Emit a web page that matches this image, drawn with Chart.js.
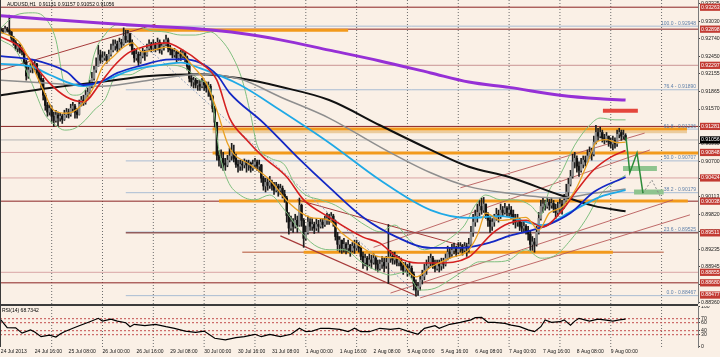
<!DOCTYPE html>
<html>
<head>
<meta charset="utf-8">
<script src="https://cdn.jsdelivr.net/npm/chart.js@4.4.1/dist/chart.umd.min.js"></script>
<style>
  html, body { margin:0; padding:0; background:#FAF0E6; }
  #wrap { position:relative; width:720px; height:357px; overflow:hidden; background:#FAF0E6; }
  canvas { display:block; }
  #cMain { position:absolute; left:0; top:0; }
  #sep { position:absolute; left:0; top:304px; width:698px; height:2px; background:#3c3c3c; }
  #cRsi { position:absolute; left:0; top:306px; }
</style>
</head>
<body>
<div id="wrap">
  <canvas id="cMain" width="720" height="304"></canvas>
  <div id="sep"></div>
  <canvas id="cRsi" width="720" height="51"></canvas>
</div>
<script>
// ===================== DATA =====================
const symbolTitle = 'AUDUSD,H1  0.91131 0.91157 0.91052 0.91056';
const rsiTitle = 'RSI(14) 68.7342';

const xLabels = ['24 Jul 2013','24 Jul 16:00','25 Jul 08:00','26 Jul 00:00','26 Jul 16:00','29 Jul 08:00','30 Jul 00:00','30 Jul 16:00','31 Jul 08:00','1 Aug 00:00','1 Aug 16:00','2 Aug 08:00','5 Aug 00:00','5 Aug 16:00','6 Aug 08:00','7 Aug 00:00','7 Aug 16:00','8 Aug 08:00','9 Aug 00:00'];
const xLabelBars = [0,16,32,48,64,80,96,112,128,144,160,176,192,208,224,240,256,272,288];
const dayStartBars = [24,48,72,96,120,144,168,192,216,240,264,288,312];

const priceTicks = [0.93325,0.93030,0.92740,0.92450,0.92155,0.91865,0.91570,0.91280,0.90990,0.90700,0.90410,0.90113,0.89820,0.89530,0.89235,0.88945,0.88650,0.88360];
const levelPrices = [0.93263,0.92898,0.92297,0.91281,0.90848,0.90424,0.90038,0.89511,0.88855,0.88680,0.88477];
const levelFromBar = [-1,-1,-1,-1,-1,-1,-1,59,-1,-1,59];
const bidPrice = 0.91056;

const fibLevels = [0,23.6,38.2,50,61.8,76.4,100];
const fibLow = 0.88467, fibHigh = 0.92948, fibFromBar = 59;

const bandPrices = [0.9288,0.9124,0.9084,0.9004,0.8919];
const bandFrom   = [-1,100,100,103,143];
const bandTo     = [164,324,330,324.4,289];
const tanBand = [[100,0.9119],[324,0.9119]];
const salmonLine = [[114,0.8919],[313,0.8919]];

const firstOpen = 0.9290;
const closes = [
0.9288,0.9286,0.9290,0.9288,0.9285,0.9275,0.9268,0.9258,0.9263,0.9255,
0.9252,0.9235,0.9212,0.9222,0.9228,0.9225,0.9232,0.9218,0.9208,0.9205,
0.9180,0.9163,0.9152,0.9158,0.9145,0.9138,0.9147,0.9142,0.9145,0.9140,
0.9147,0.9152,0.9148,0.9158,0.9162,0.9152,0.9148,0.9165,0.9172,0.9168,
0.9180,0.9185,0.9197,0.9208,0.9222,0.9228,0.9247,0.9238,0.9242,0.9245,
0.9238,0.9248,0.9255,0.9262,0.9265,0.9258,0.9268,0.9265,0.9278,0.9272,
0.9282,0.9268,0.9255,0.9242,0.9248,0.9235,0.9245,0.9252,0.9247,0.9258,
0.9265,0.9258,0.9263,0.9258,0.9268,0.9255,0.9262,0.9265,0.9272,0.9258,
0.9255,0.9247,0.9252,0.9242,0.9248,0.9245,0.9250,0.9242,0.9228,0.9208,
0.9202,0.9205,0.9197,0.9198,0.9195,0.9202,0.9197,0.9192,0.9195,0.9178,
0.9158,0.9135,0.9080,0.9072,0.9075,0.9067,0.9064,0.9072,0.9079,0.9085,
0.9075,0.9065,0.9062,0.9065,0.9064,0.9069,0.9064,0.9067,0.9059,0.9065,
0.9069,0.9062,0.9064,0.9042,0.9029,0.9035,0.9030,0.9035,0.9029,0.9022,
0.9029,0.9022,0.9025,0.9015,0.9009,0.8980,0.8959,0.8969,0.8962,0.8972,
0.8964,0.8997,0.8972,0.8942,0.8952,0.8969,0.8962,0.8965,0.8959,0.8965,
0.8962,0.8969,0.8965,0.8972,0.8975,0.8972,0.8979,0.8969,0.8945,0.8932,
0.8939,0.8926,0.8932,0.8926,0.8931,0.8922,0.8929,0.8926,0.8932,0.8926,
0.8912,0.8902,0.8909,0.8899,0.8906,0.8902,0.8909,0.8899,0.8892,0.8899,
0.8902,0.8896,0.8902,0.8909,0.8912,0.8906,0.8909,0.8902,0.8906,0.8896,
0.8889,0.8896,0.8889,0.8892,0.8882,0.8866,0.8856,0.8862,0.8873,0.8879,
0.8889,0.8896,0.8902,0.8909,0.8899,0.8892,0.8899,0.8896,0.8902,0.8899,
0.8909,0.8919,0.8916,0.8922,0.8926,0.8919,0.8926,0.8929,0.8922,0.8929,
0.8926,0.8932,0.8952,0.8969,0.8979,0.8985,0.8995,0.8989,0.8999,0.8982,
0.8972,0.8962,0.8969,0.8975,0.8982,0.8979,0.8989,0.8985,0.8992,0.8985,
0.8989,0.8982,0.8975,0.8969,0.8972,0.8962,0.8959,0.8962,0.8955,0.8949,
0.8932,0.8936,0.8932,0.8952,0.8975,0.8995,0.8999,0.8995,0.9002,0.8997,
0.9000,0.8992,0.8985,0.8992,0.8999,0.8995,0.9005,0.9019,0.9032,0.9045,
0.9069,0.9075,0.9062,0.9055,0.9065,0.9072,0.9069,0.9079,0.9085,0.9082,
0.9102,0.9118,0.9112,0.9118,0.9109,0.9105,0.9112,0.9102,0.9099,0.9105,
0.9099,0.9115,0.9118,0.9112,0.9113,0.9106];
const highs = [
0.9293,0.9291,0.9295,0.9293,0.9313,0.9286,0.9278,0.9271,0.9266,0.9265,
0.9260,0.9255,0.9238,0.9228,0.9233,0.9235,0.9238,0.9233,0.9222,0.9215,
0.9208,0.9183,0.9168,0.9165,0.9162,0.9152,0.9155,0.9152,0.9150,0.9148,
0.9155,0.9158,0.9157,0.9165,0.9168,0.9165,0.9158,0.9172,0.9178,0.9180,
0.9188,0.9192,0.9205,0.9218,0.9228,0.9242,0.9263,0.9255,0.9252,0.9252,
0.9248,0.9255,0.9265,0.9272,0.9272,0.9270,0.9275,0.9273,0.9292,0.9288,
0.9288,0.9283,0.9272,0.9258,0.9255,0.9252,0.9252,0.9258,0.9255,0.9265,
0.9272,0.9268,0.9272,0.9268,0.9275,0.9272,0.9265,0.9272,0.9280,0.9275,
0.9263,0.9258,0.9258,0.9255,0.9252,0.9255,0.9255,0.9252,0.9245,0.9232,
0.9213,0.9210,0.9208,0.9205,0.9205,0.9208,0.9205,0.9202,0.9202,0.9198,
0.9180,0.9162,0.9135,0.9088,0.9089,0.9085,0.9075,0.9080,0.9092,0.9100,
0.9097,0.9082,0.9072,0.9072,0.9072,0.9074,0.9072,0.9072,0.9069,0.9072,
0.9075,0.9072,0.9072,0.9065,0.9045,0.9042,0.9042,0.9045,0.9039,0.9035,
0.9035,0.9032,0.9032,0.9029,0.9022,0.9012,0.8985,0.8979,0.8975,0.8982,
0.8979,0.9009,0.8999,0.8975,0.8962,0.8979,0.8975,0.8975,0.8969,0.8975,
0.8972,0.8975,0.8975,0.8979,0.8984,0.8982,0.8985,0.8982,0.8972,0.8952,
0.8945,0.8939,0.8942,0.8935,0.8939,0.8932,0.8935,0.8939,0.8939,0.8935,
0.8929,0.8919,0.8916,0.8912,0.8916,0.8914,0.8916,0.8912,0.8906,0.8906,
0.8912,0.8909,0.8912,0.8965,0.8922,0.8919,0.8919,0.8914,0.8912,0.8909,
0.8902,0.8902,0.8899,0.8902,0.8896,0.8886,0.8873,0.8869,0.8879,0.8889,
0.8899,0.8906,0.8912,0.8916,0.8912,0.8906,0.8906,0.8906,0.8909,0.8909,
0.8916,0.8929,0.8926,0.8932,0.8934,0.8929,0.8935,0.8935,0.8932,0.8935,
0.8934,0.8942,0.8962,0.8982,0.8989,0.8999,0.9005,0.9009,0.9010,0.8999,
0.8985,0.8979,0.8975,0.8982,0.8992,0.8989,0.8999,0.8995,0.9000,0.8995,
0.8999,0.8995,0.8989,0.8982,0.8982,0.8975,0.8969,0.8969,0.8965,0.8962,
0.8955,0.8945,0.8942,0.8962,0.8985,0.9005,0.9010,0.9005,0.9010,0.9007,
0.9009,0.9005,0.8999,0.9002,0.9009,0.9005,0.9015,0.9032,0.9042,0.9055,
0.9082,0.9085,0.9079,0.9069,0.9075,0.9079,0.9079,0.9089,0.9094,0.9092,
0.9112,0.9130,0.9125,0.9127,0.9122,0.9115,0.9118,0.9112,0.9109,0.9112,
0.9109,0.9122,0.9125,0.9122,0.9122,0.9116];
const lows = [
0.9283,0.9283,0.9285,0.9285,0.9281,0.9271,0.9263,0.9255,0.9252,0.9250,
0.9247,0.9232,0.9205,0.9208,0.9218,0.9217,0.9222,0.9213,0.9202,0.9193,
0.9172,0.9155,0.9145,0.9147,0.9135,0.9128,0.9135,0.9128,0.9137,0.9133,
0.9138,0.9143,0.9142,0.9145,0.9152,0.9142,0.9142,0.9147,0.9162,0.9163,
0.9165,0.9175,0.9182,0.9192,0.9205,0.9218,0.9228,0.9233,0.9235,0.9238,
0.9233,0.9237,0.9245,0.9252,0.9255,0.9252,0.9255,0.9258,0.9263,0.9267,
0.9268,0.9262,0.9248,0.9235,0.9238,0.9228,0.9233,0.9242,0.9238,0.9245,
0.9255,0.9252,0.9255,0.9252,0.9255,0.9250,0.9248,0.9255,0.9262,0.9252,
0.9247,0.9242,0.9243,0.9235,0.9238,0.9238,0.9242,0.9235,0.9222,0.9202,
0.9195,0.9192,0.9192,0.9188,0.9188,0.9192,0.9188,0.9185,0.9178,0.9172,
0.9152,0.9127,0.9072,0.9062,0.9059,0.9055,0.9055,0.9061,0.9069,0.9072,
0.9069,0.9060,0.9052,0.9055,0.9055,0.9059,0.9052,0.9055,0.9052,0.9055,
0.9059,0.9055,0.9052,0.9035,0.9022,0.9019,0.9022,0.9025,0.9022,0.9015,
0.9019,0.9012,0.9015,0.9009,0.9002,0.8969,0.8949,0.8955,0.8952,0.8959,
0.8952,0.8962,0.8962,0.8927,0.8939,0.8949,0.8955,0.8955,0.8950,0.8955,
0.8952,0.8959,0.8959,0.8962,0.8965,0.8965,0.8969,0.8962,0.8939,0.8922,
0.8919,0.8917,0.8919,0.8916,0.8919,0.8912,0.8919,0.8917,0.8922,0.8919,
0.8906,0.8892,0.8896,0.8889,0.8896,0.8892,0.8899,0.8889,0.8886,0.8889,
0.8892,0.8886,0.8892,0.8867,0.8902,0.8899,0.8899,0.8896,0.8896,0.8889,
0.8882,0.8886,0.8879,0.8882,0.8876,0.8856,0.8846,0.8847,0.8856,0.8866,
0.8873,0.8882,0.8892,0.8896,0.8892,0.8886,0.8889,0.8886,0.8889,0.8892,
0.8896,0.8906,0.8909,0.8912,0.8916,0.8912,0.8916,0.8919,0.8914,0.8919,
0.8912,0.8919,0.8929,0.8945,0.8962,0.8969,0.8979,0.8982,0.8985,0.8975,
0.8962,0.8952,0.8955,0.8962,0.8972,0.8969,0.8975,0.8979,0.8982,0.8979,
0.8979,0.8975,0.8965,0.8959,0.8962,0.8955,0.8952,0.8952,0.8949,0.8939,
0.8922,0.8922,0.8919,0.8929,0.8949,0.8972,0.8985,0.8989,0.8992,0.8989,
0.8992,0.8985,0.8975,0.8979,0.8985,0.8982,0.8992,0.8999,0.9012,0.9029,
0.9042,0.9059,0.9052,0.9045,0.9052,0.9059,0.9062,0.9069,0.9075,0.9072,
0.9079,0.9099,0.9105,0.9109,0.9102,0.9099,0.9102,0.9095,0.9092,0.9089,
0.9092,0.9095,0.9109,0.9105,0.9107,0.9105];

// moving averages: [bar, price]
const maPurple = [[0,0.9312],[23,0.9306],[47,0.9300],[70,0.9295],[94,0.9290],[113,0.9283],[132,0.9272],[155,0.9255],[179,0.9237],[203,0.9217],[221,0.9202],[240,0.9193],[264,0.9180],[283,0.9174],[295,0.9172]];
const maBlack = [[0,0.9180],[23,0.9192],[47,0.9202],[70,0.9212],[94,0.9215],[113,0.9208],[132,0.9194],[155,0.9172],[179,0.9130],[203,0.9089],[221,0.9061],[240,0.9044],[264,0.9014],[280,0.8996],[295,0.8987]];
const maGray = [[0,0.9205],[23,0.9200],[47,0.9195],[70,0.9205],[94,0.9215],[113,0.9207],[132,0.9177],[155,0.9142],[179,0.9094],[203,0.9051],[221,0.9028],[240,0.9017],[264,0.9009],[280,0.9017],[295,0.9024]];
const maCyan = [[0,0.9232],[15,0.9227],[23,0.9214],[39,0.9195],[47,0.9202],[62,0.9222],[75,0.9230],[85,0.9234],[94,0.9225],[113,0.9197],[132,0.9155],[155,0.9101],[179,0.9039],[203,0.8989],[221,0.8976],[236,0.8979],[256,0.8964],[269,0.8986],[283,0.9011],[295,0.9022]];
const maNavy = [[0,0.9245],[15,0.9239],[31,0.9219],[39,0.9197],[47,0.9202],[55,0.9217],[67,0.9230],[78,0.9239],[86,0.9240],[94,0.9234],[102,0.9214],[108,0.9184],[124,0.9134],[140,0.9077],[155,0.9027],[171,0.8977],[187,0.8944],[203,0.8926],[217,0.8926],[232,0.8936],[240,0.8946],[256,0.8961],[269,0.8984],[280,0.9019],[295,0.9044]];
const maRed = [[0,0.9277],[9,0.9260],[15,0.9234],[23,0.9200],[31,0.9177],[39,0.9169],[47,0.9200],[53,0.9227],[60,0.9250],[67,0.9260],[78,0.9267],[86,0.9255],[94,0.9235],[102,0.9205],[108,0.9142],[116,0.9106],[124,0.9077],[135,0.9044],[143,0.9006],[155,0.8977],[171,0.8944],[179,0.8934],[187,0.8911],[197,0.8901],[206,0.8901],[221,0.8911],[232,0.8950],[240,0.8967],[248,0.8972],[256,0.8961],[264,0.8984],[272,0.9022],[280,0.9056],[288,0.9077],[295,0.9088]];
const maOrange = [[0,0.9285],[9,0.9267],[15,0.9227],[20,0.9189],[25,0.9155],[31,0.9150],[37,0.9160],[44,0.9194],[48,0.9227],[53,0.9244],[58,0.9260],[62,0.9267],[67,0.9252],[72,0.9255],[78,0.9260],[85,0.9250],[91,0.9227],[97,0.9200],[102,0.9155],[107,0.9100],[110,0.9082],[117,0.9066],[127,0.9039],[136,0.9001],[146,0.8977],[155,0.8972],[161,0.8951],[171,0.8926],[179,0.8911],[187,0.8909],[196,0.8878],[203,0.8894],[212,0.8909],[221,0.8923],[225,0.8947],[229,0.8984],[236,0.8972],[248,0.8977],[254,0.8956],[259,0.8984],[265,0.8994],[272,0.9027],[277,0.9067],[281,0.9101],[286,0.9106],[291,0.9101],[295,0.9102]];
const bbUpper = [[0,0.9292],[7,0.9313],[15,0.9317],[21,0.9308],[26,0.9272],[30,0.9197],[35,0.9180],[41,0.9197],[44,0.9247],[49,0.9280],[55,0.9297],[63,0.9297],[70,0.9288],[78,0.9285],[85,0.9280],[92,0.9280],[99,0.9285],[104,0.9272],[109,0.9247],[114,0.9205],[118,0.9147],[121,0.9097],[127,0.9076],[134,0.9064],[139,0.9031],[144,0.9014],[151,0.9006],[158,0.8997],[165,0.8981],[172,0.8964],[179,0.8953],[186,0.8964],[193,0.8939],[200,0.8923],[207,0.8931],[214,0.8947],[219,0.8964],[224,0.8997],[229,0.9014],[236,0.9006],[243,0.9006],[250,0.8997],[255,0.8981],[259,0.9022],[264,0.9047],[271,0.9097],[278,0.9130],[283,0.9142],[290,0.9139],[295,0.9139]];
const bbLower = [[0,0.9272],[7,0.9255],[14,0.9205],[21,0.9147],[26,0.9130],[30,0.9122],[35,0.9125],[40,0.9139],[44,0.9155],[49,0.9172],[55,0.9214],[61,0.9214],[66,0.9222],[73,0.9230],[80,0.9230],[87,0.9225],[94,0.9205],[99,0.9189],[103,0.9089],[107,0.9039],[113,0.9014],[120,0.9006],[127,0.9014],[134,0.8989],[141,0.8956],[148,0.8931],[155,0.8923],[162,0.8923],[170,0.8903],[177,0.8889],[184,0.8881],[191,0.8886],[198,0.8856],[205,0.8859],[212,0.8873],[219,0.8889],[226,0.8903],[233,0.8903],[240,0.8906],[248,0.8923],[255,0.8909],[262,0.8914],[269,0.8939],[276,0.8972],[283,0.9014],[288,0.9031],[295,0.9047]];

// trend lines / channels: [bar, price]
const trendRising = [[0,0.9222],[73,0.9298]];
const trendDotted = [[60,0.9288],[198,0.8845]];
const chanUpper = [[140,0.9006],[221.5,0.8926]];
const chanLower = [[132,0.8946],[196.5,0.8846]];
const ascLines = [
  [[176,0.8927],[306.5,0.9089]],
  [[184,0.8851],[317.4,0.9006]],
  [[198,0.8843],[325.4,0.8981]],
  [[217,0.9026],[304,0.9117]]
];
// projection objects
const fcPath = [[295.2,0.9110],[297,0.9051],[300.4,0.9084],[303.2,0.9017]];
const fcDashed = [[303.2,0.9017],[307.4,0.9039],[312.2,0.9006]];
const redZone = [[284.3,0.9154],[300.8,0.9154]];
const greenZone1 = [[293.8,0.9058],[309.8,0.9058]];
const greenZone2 = [[299,0.9019],[313,0.9019]];

// RSI(14): [bar, value]
const rsiPoints = [[0,67],[3,47.5],[7,47],[10,34],[14,42],[16,37],[19,25],[23,29],[26,24],[28,32],[30,37.5],[34,46],[37,52.5],[42,62.5],[46,71],[48,64],[52,69],[55,64],[59,60],[61,50],[63,56],[68,52.5],[73,56],[78,50],[82,46],[87,39],[92,36],[96,39],[101,21],[106,17],[111,22.5],[115,25],[120,31],[123,25],[127,31],[132,25],[137,31],[141,46],[144,37.5],[147,39],[151,46],[155,46],[160,43.5],[164,37.5],[167,46],[170,37.5],[174,37.5],[179,46],[184,43.5],[188,46],[192,39],[197,31],[200,46],[205,52.5],[207,46],[212,56],[217,61],[222,67],[224,72.5],[227,73.5],[230,61],[233,61],[238,58.5],[241,54],[245,50],[249,42],[252,37.5],[255,50],[257,67],[260,61],[264,62.5],[266,67],[269,54],[271,64],[273,71],[278,64],[282,69],[285,67],[289,64],[292,67],[295,68.7]];
const rsiLevels = [70,60,40,30];
const rsiTicks = [100,70,60,40,30,0];

// ===================== RENDERING =====================
const XMIN = -0.4, XMAX = 329.2;
const YMAX = 0.93383, YMIN = 0.88328;
const RMIN = -0.75, RMAX = 101.75;
const FONT = 'Liberation Sans';

const opens = closes.map((c, i) => i === 0 ? firstOpen : closes[i - 1]);
const axisTicks = priceTicks.concat(levelPrices, [bidPrice]);

function lineDs(points, color, width, order, extra) {
  return Object.assign({
    type: 'line',
    data: points.map(p => ({x: p[0], y: p[1]})),
    borderColor: color, borderWidth: width,
    pointRadius: 0, pointHoverRadius: 0, fill: false, tension: 0,
    order: order
  }, extra || {});
}
const smooth = {cubicInterpolationMode: 'monotone'};
const dayGrid = (lo, hi) => dayStartBars.map(d => lineDs([[d, lo], [d, hi]], '#6c6c6c', 1, 200, {borderDash: [1, 2]}));

const ds = dayGrid(YMIN, YMAX);
// fibonacci levels
fibLevels.forEach(l => {
  const p = fibLow + l / 100 * (fibHigh - fibLow);
  ds.push(lineDs([[fibFromBar, p], [XMAX, p]], '#A9BDD3', 1, 100));
});
// horizontal levels
const levelColors = ['#8B2323','#8B2323','#C99494','#8B2323','#D9A5A5','#D9A5A5','#8B2323','#6E1E1E','#D9A5A5','#8B2323',null];
levelPrices.forEach((p, i) => {
  if (!levelColors[i]) return;
  ds.push(lineDs([[levelFromBar[i] < 0 ? XMIN : levelFromBar[i], p], [XMAX, p]], levelColors[i], 1, 95));
});
ds.push(lineDs([[XMIN, bidPrice], [XMAX, bidPrice]], '#B4B4B4', 1, 94));
// orange bands
ds.push(lineDs(tanBand, '#EBCB9C', 2.5, 91));
ds.push(lineDs(salmonLine, '#C98670', 1.5, 91));
bandPrices.forEach((p, i) => {
  ds.push(lineDs([[bandFrom[i] < 0 ? XMIN : bandFrom[i], p], [bandTo[i], p]], '#F29A1C', 3, 90));
});
// trend lines
ds.push(lineDs(trendRising, '#A63A3A', 1, 85));
ds.push(lineDs(trendDotted, '#8F9FBA', 1, 85, {borderDash: [2, 2]}));
ds.push(lineDs(chanUpper, '#A63A3A', 1, 85));
ds.push(lineDs(chanLower, '#A63A3A', 1.2, 85));
ascLines.forEach(l => ds.push(lineDs(l, '#B85A5A', 0.9, 85)));
// candles
const wickData = closes.map((c, i) => ({x: i, y: [Math.min(lows[i], opens[i], c), Math.max(highs[i], opens[i], c)]}));
const bodyData = closes.map((c, i) => ({x: i, y: [opens[i], c]}));
ds.push({type: 'bar', data: wickData, backgroundColor: '#1e1e1e', barThickness: 1, grouped: false, borderWidth: 0, order: 80});
ds.push({type: 'bar', data: bodyData, grouped: false, borderWidth: 0, barThickness: 1.8, minBarLength: 1, order: 79,
  backgroundColor: ctx => (ctx.dataIndex !== undefined && closes[ctx.dataIndex] >= opens[ctx.dataIndex]) ? '#8c8c8c' : '#121212'});
// bollinger + MAs
ds.push(lineDs(bbUpper, '#7FBF7F', 1, 70, smooth));
ds.push(lineDs(bbLower, '#7FBF7F', 1, 70, smooth));
ds.push(lineDs(maBlack, '#111111', 2, 66, smooth));
ds.push(lineDs(maGray, '#8E8E8E', 1.5, 65, smooth));
ds.push(lineDs(maCyan, '#1FA9E6', 1.8, 64, smooth));
ds.push(lineDs(maNavy, '#1428C4', 1.8, 63, smooth));
ds.push(lineDs(maRed, '#D42020', 1.6, 62, smooth));
ds.push(lineDs(maOrange, '#E9A022', 1.3, 61, smooth));
ds.push(lineDs(maPurple, '#9630D6', 3, 60, smooth));
// projection
ds.push(lineDs(redZone, '#E4463C', 4, 12));
ds.push(lineDs(greenZone1, '#8FC48F', 5, 12));
ds.push(lineDs(greenZone2, '#8FC48F', 5, 12));
ds.push(lineDs(fcPath, '#2E8B3A', 1.5, 10));
ds.push(lineDs(fcDashed, '#8A8A8A', 1, 10, {borderDash: [2, 2]}));

const mainText = {
  id: 'mainText',
  afterDatasetsDraw(chart) {
    const {ctx} = chart; const y = chart.scales.y;
    ctx.save();
    ctx.font = '5px "' + FONT + '"';
    ctx.fillStyle = '#000';
    ctx.textBaseline = 'middle';
    ctx.textAlign = 'left';
    ctx.fillText(symbolTitle, 7, 4.5);
    ctx.fillStyle = '#5F80AA';
    ctx.textAlign = 'right';
    ctx.textBaseline = 'bottom';
    fibLevels.forEach(l => {
      const p = fibLow + l / 100 * (fibHigh - fibLow);
      ctx.fillText(l.toFixed(1) + ' - ' + p.toFixed(5), 696, y.getPixelForValue(p) - 0.3);
    });
    ctx.fillStyle = '#3a3a3a';
    ctx.fillRect(0, 0, 1, chart.height);
    ctx.restore();
  }
};

new Chart(document.getElementById('cMain'), {
  type: 'line',
  data: {datasets: ds},
  options: {
    responsive: false, animation: false, devicePixelRatio: 1, events: [],
    layout: {padding: 0},
    plugins: {legend: {display: false}, tooltip: {enabled: false}},
    scales: {
      x: {
        type: 'linear', min: XMIN, max: XMAX, offset: false, position: 'bottom',
        afterFit: s => { s.height = 0; s.paddingLeft = 0; s.paddingRight = 0; },
        ticks: {display: false},
        grid: {display: false, offset: false, drawTicks: false},
        border: {display: false}
      },
      y: {
        type: 'linear', position: 'right', min: YMIN, max: YMAX,
        afterBuildTicks: s => { s.ticks = axisTicks.map(v => ({value: v})); },
        afterFit: s => { s.width = 22; s.paddingTop = 0; s.paddingBottom = 0; },
        ticks: {
          autoSkip: false, padding: 1,
          font: {family: FONT, size: 5.2},
          color: ctx => ctx.index < priceTicks.length ? '#1a1a1a' : '#ffffff',
          showLabelBackdrop: ctx => ctx.index >= priceTicks.length,
          backdropColor: ctx => ctx.index === axisTicks.length - 1 ? '#000000' : '#C23A32',
          backdropPadding: {top: 0.5, bottom: 0.5, left: 1, right: 6},
          callback: v => Number(v).toFixed(5)
        },
        grid: {drawOnChartArea: false, drawTicks: true, tickLength: 2,
               tickColor: ctx => ctx.index < priceTicks.length ? '#444' : 'rgba(0,0,0,0)'},
        border: {display: true, color: '#7a7a7a', width: 1}
      }
    }
  },
  plugins: [mainText]
});

// ---------- RSI panel ----------
const rsiDs = dayGrid(RMIN, RMAX);
rsiLevels.forEach(l => rsiDs.push(lineDs([[XMIN, l], [XMAX, l]], '#C24C4C', 1, 20, {borderDash: [2, 2]})));
rsiDs.push(lineDs(rsiPoints, '#000000', 1.2, 5));

const rsiText = {
  id: 'rsiText',
  afterDatasetsDraw(chart) {
    const {ctx} = chart;
    ctx.save();
    ctx.font = '5px "' + FONT + '"';
    ctx.fillStyle = '#000';
    ctx.textBaseline = 'middle';
    ctx.fillText(rsiTitle, 2, 4.5);
    ctx.fillStyle = '#3a3a3a';
    ctx.fillRect(0, 0, 1, chart.chartArea.bottom);
    ctx.restore();
  }
};

new Chart(document.getElementById('cRsi'), {
  type: 'line',
  data: {datasets: rsiDs},
  options: {
    responsive: false, animation: false, devicePixelRatio: 1, events: [],
    layout: {padding: 0},
    plugins: {legend: {display: false}, tooltip: {enabled: false}},
    scales: {
      x: {
        type: 'linear', min: XMIN, max: XMAX, offset: false, position: 'bottom',
        afterBuildTicks: s => { s.ticks = xLabelBars.map(v => ({value: v})); },
        afterFit: s => { s.height = 10; s.paddingLeft = 0; s.paddingRight = 0; },
        ticks: {autoSkip: false, maxRotation: 0, minRotation: 0, align: 'start', padding: 2,
                color: '#111', font: {family: FONT, size: 5}, callback: (v, i) => xLabels[i]},
        grid: {display: false, drawTicks: false},
        border: {display: false}
      },
      y: {
        type: 'linear', position: 'right', min: RMIN, max: RMAX,
        afterBuildTicks: s => { s.ticks = rsiTicks.map(v => ({value: v})); },
        afterFit: s => { s.width = 22; s.paddingTop = 0; s.paddingBottom = 0; },
        ticks: {autoSkip: false, padding: 1, color: '#1a1a1a', font: {family: FONT, size: 5.2},
                callback: v => String(v)},
        grid: {drawOnChartArea: false, drawTicks: true, tickLength: 2, tickColor: '#444'},
        border: {display: true, color: '#7a7a7a', width: 1}
      }
    }
  },
  plugins: [rsiText]
});
</script>
</body>
</html>
